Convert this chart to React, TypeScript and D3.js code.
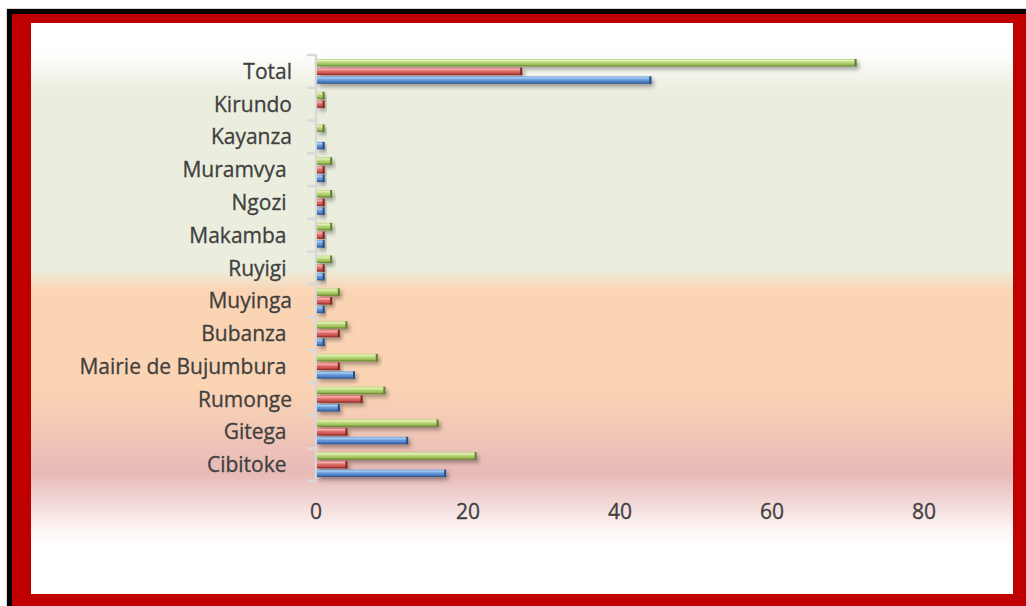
import React from "react";
import * as d3 from "d3";

const categories = [
  "Total",
  "Kirundo",
  "Kayanza",
  "Muramvya ",
  "Ngozi ",
  "Makamba ",
  "Ruyigi ",
  "Muyinga",
  "Bubanza ",
  "Mairie de Bujumbura ",
  "Rumonge",
  "Gitega ",
  "Cibitoke ",
];
// values per category, same order as categories
const greenValues = [71, 1, 1, 2, 2, 2, 2, 3, 4, 8, 9, 16, 21];
const redValues = [27, 1, 0, 1, 1, 1, 1, 2, 3, 3, 6, 4, 4];
const blueValues = [44, 0, 1, 1, 1, 1, 1, 1, 1, 5, 3, 12, 17];
const xTicks = [0, 20, 40, 60, 80];

const seriesKeys = ["green", "red", "blue"];
const seriesData: Record<string, number[]> = {
  green: greenValues,
  red: redValues,
  blue: blueValues,
};
const seriesColors: Record<string, [string, string, string, string]> = {
  green: ["#E3F2B8", "#B9D77A", "#9CBF55", "#5F7C2C"],
  red: ["#F7B2AF", "#E0706C", "#C9504C", "#7E2624"],
  blue: ["#A9CDF3", "#6A9DDC", "#4C7FC2", "#264D85"],
};

export default function App() {
  const W = 1026;
  const H = 606;
  const x = d3.scaleLinear().domain([0, 90]).range([316, 1000]);
  const y = d3.scaleBand<string>().domain(categories).range([55, 481]).padding(0);
  const inner = d3
    .scaleBand<string>()
    .domain(seriesKeys)
    .range([4, y.bandwidth() - 4])
    .paddingInner(0.15)
    .paddingOuter(0);

  const bandEdges = categories.map((c) => y(c) as number).concat([481]);
  const font = "'Open Sans', Lato, sans-serif";

  return (
    <svg
      width={W}
      height={H}
      style={{ position: "absolute", left: 0, top: 0, display: "block" }}
      xmlSpace="preserve"
    >
      <defs>
        <linearGradient id="bg" x1="0" y1="23" x2="0" y2="594" gradientUnits="userSpaceOnUse">
          <stop offset="0" stopColor="#FFFFFF" />
          <stop offset="0.05" stopColor="#FFFFFF" />
          <stop offset="0.12" stopColor="#EBEEDE" />
          <stop offset="0.43" stopColor="#EBEEDE" />
          <stop offset="0.47" stopColor="#FBD4B4" />
          <stop offset="0.64" stopColor="#FBD4B4" />
          <stop offset="0.79" stopColor="#E7BAB8" />
          <stop offset="0.89" stopColor="#FDF7F6" />
          <stop offset="0.92" stopColor="#FFFFFF" />
          <stop offset="1" stopColor="#FFFFFF" />
        </linearGradient>
        {seriesKeys.map((k) => (
          <linearGradient key={k} id={`g-${k}`} x1="0" y1="0" x2="0" y2="1">
            <stop offset="0" stopColor={seriesColors[k][1]} />
            <stop offset="0.2" stopColor={seriesColors[k][0]} />
            <stop offset="0.45" stopColor={seriesColors[k][1]} />
            <stop offset="0.75" stopColor={seriesColors[k][2]} />
            <stop offset="1" stopColor={seriesColors[k][3]} />
          </linearGradient>
        ))}
        <filter id="shadow" x="-10%" y="-50%" width="130%" height="250%">
          <feDropShadow dx="2" dy="3" stdDeviation="2" floodColor="#000" floodOpacity="0.35" />
        </filter>
      </defs>

      {/* frame */}
      <rect x={0} y={0} width={W} height={H} fill="#FFFFFF" />
      <rect x={6} y={8} width={W - 6} height={H - 8} fill="#D9D9D9" />
      <rect x={7} y={9} width={W - 7} height={H - 9} fill="#000000" />
      <rect x={12} y={14} width={W - 12} height={H - 14} fill="#C00000" />
      <rect x={31} y={23} width={982} height={571} fill="url(#bg)" />

      {/* axis line and ticks */}
      <line x1={316} x2={316} y1={55} y2={481} stroke="#D9D9D9" strokeWidth={2.5} />
      {bandEdges.map((e, i) => (
        <line key={i} x1={307} x2={316} y1={e} y2={e} stroke="#D9D9D9" strokeWidth={2.5} />
      ))}

      {/* bars */}
      {categories.map((c, ci) => (
        <g key={c} transform={`translate(0,${y(c)})`}>
          {seriesKeys.map((k) => {
            const v = seriesData[k][ci];
            if (v <= 0) return null;
            const bx = x(0) + 1;
            const bw = x(v) - x(0);
            const by = inner(k) as number;
            const bh = inner.bandwidth();
            return (
              <g key={k} filter="url(#shadow)">
                <rect x={bx} y={by} width={bw} height={bh} fill={`url(#g-${k})`} />
                <rect x={bx + bw - 2} y={by} width={2} height={bh} fill={seriesColors[k][3]} />
              </g>
            );
          })}
        </g>
      ))}

      {/* category labels */}
      {categories.map((c) => (
        <text
          key={c}
          x={292}
          y={(y(c) as number) + y.bandwidth() / 2}
          dy="0.36em"
          textAnchor="end"
          fontFamily={font}
          fontSize={21}
          fill="#404040"
          stroke="#404040"
          strokeWidth={0.3}
          style={{ whiteSpace: "pre" }}
        >
          {c}
        </text>
      ))}

      {/* x tick labels */}
      {xTicks.map((t) => (
        <text
          key={t}
          x={x(t)}
          y={511}
          dy="0.36em"
          textAnchor="middle"
          fontFamily={font}
          fontSize={21}
          fill="#404040"
          stroke="#404040"
          strokeWidth={0.3}
        >
          {t}
        </text>
      ))}
    </svg>
  );
}
